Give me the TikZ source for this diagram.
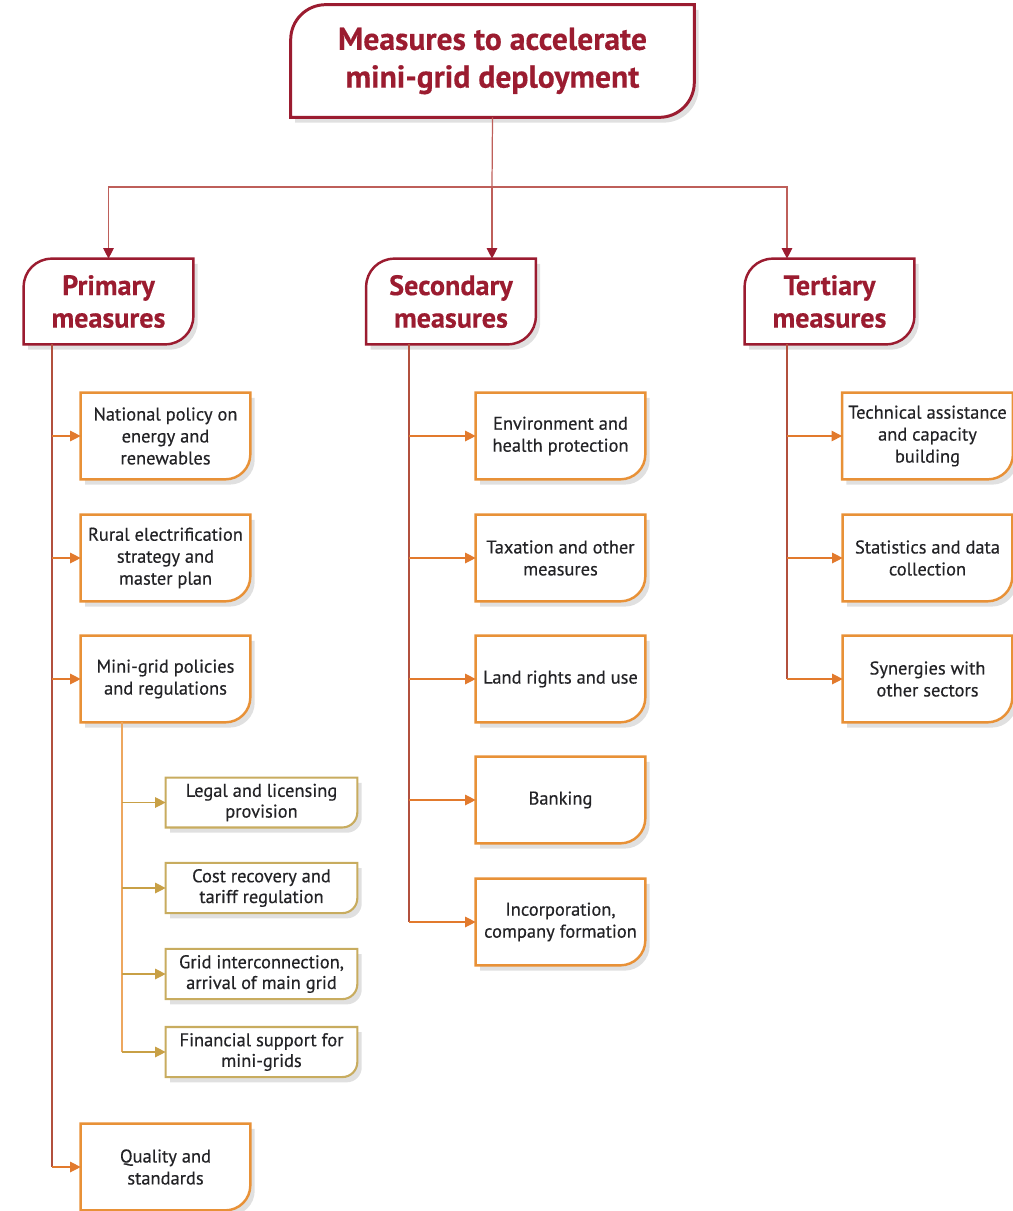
\documentclass[tikz,border=0pt]{standalone}
\usepackage{fontspec}
\setmainfont{PT Sans}[FakeBold=0.4]
\usetikzlibrary{arrows.meta,shadows,backgrounds}
\usepackage{xcolor}

\definecolor{rojo}{RGB}{155,28,48}
\definecolor{rojoclaro}{RGB}{190,95,90}
\definecolor{tronco}{RGB}{178,80,62}
\definecolor{naranja}{RGB}{232,145,55}
\definecolor{flechanar}{RGB}{226,122,45}
\definecolor{caqui}{RGB}{200,172,95}
\definecolor{oro}{RGB}{200,160,70}
\definecolor{texto}{RGB}{35,35,38}

% marco con esquinas redondeadas arriba-izq y abajo-der
\newcommand{\marcoA}[3]{%
  \begin{pgfonlayer}{background}
  \draw[#3] (#1.south west) -- ([yshift=-#2]#1.north west)
    arc[start angle=180,end angle=90,radius=#2] -- (#1.north east)
    -- ([yshift=#2]#1.south east) arc[start angle=0,end angle=-90,radius=#2] -- cycle;
  \end{pgfonlayer}}
% marco con solo la esquina abajo-der redondeada
\newcommand{\marcoB}[3]{%
  \begin{pgfonlayer}{background}
  \draw[#3] (#1.south west) -- (#1.north west) -- (#1.north east)
    -- ([yshift=#2]#1.south east) arc[start angle=0,end angle=-90,radius=#2] -- cycle;
  \end{pgfonlayer}}

\begin{document}
\begin{tikzpicture}[x=0.02cm,y=-0.02cm,
  sombra/.style={fill=white,drop shadow={shadow xshift=2.5pt,shadow yshift=-3pt,opacity=0.12,fill=black}},
  titulo/.style={text=rojo,font=\bfseries\fontsize{18}{21.5}\selectfont,align=center,
    minimum width=8.06cm,minimum height=2.24cm},
  grupo/.style={text=rojo,font=\bfseries\fontsize{16}{18.5}\selectfont,align=center,
    minimum width=3.38cm,minimum height=1.7cm},
  medida/.style={text=texto,font=\fontsize{10.5}{12.5}\selectfont,align=center,
    minimum width=3.38cm,minimum height=1.72cm},
  submedida/.style={text=texto,font=\fontsize{10.5}{11.8}\selectfont,align=center,
    minimum width=3.82cm,minimum height=0.96cm},
  flecha/.style={-{Triangle[length=6pt,width=6pt]}},
  flechaalta/.style={rojoclaro,line width=0.7pt,-{Triangle[length=6pt,width=6pt,color=rojo]}},
]
\useasboundingbox (0,0) rectangle (1013,1211);

\node[titulo] (meta) at (492.5,61) {Measures to accelerate\\mini-grid deployment};
\node[grupo] (prim) at (108.5,301.5) {Primary\\measures};
\node[grupo] (secu) at (451,301.5) {Secondary\\measures};
\node[grupo] (terc) at (829.5,301.5) {Tertiary\\measures};
\marcoA{meta}{0.7cm}{rojo,line width=1.7pt,sombra}
\foreach \n in {prim,secu,terc}
  \marcoA{\n}{0.56cm}{rojo,line width=1.4pt,sombra};

\foreach \n/\y/\t in {p1/436/{National policy on\\energy and\\renewables},
    p2/558/{Rural electrification\\strategy and\\master plan},
    p3/679/{Mini-grid policies\\and regulations},
    p4/1167/{Quality and\\standards}}
  \node[medida] (\n) at (165.5,\y) {\t};
\foreach \n/\y/\t in {s1/436/{Environment and\\health protection},
    s2/558/{Taxation and other\\measures},
    s3/679/{Land rights and use},
    s4/800/{Banking},
    s5/922/{Incorporation,\\company formation}}
  \node[medida] (\n) at (560.5,\y) {\t};
\foreach \n/\y/\t in {t1/436/{Technical assistance\\and capacity\\building},
    t2/558/{Statistics and data\\collection},
    t3/679/{Synergies with\\other sectors}}
  \node[medida] (\n) at (927.5,\y) {\t};
\foreach \n/\y/\t in {g1/802.5/{Legal and licensing\\provision},
    g2/888/{Cost recovery and\\tariff regulation},
    g3/974/{Grid interconnection,\\arrival of main grid},
    g4/1052/{Financial support for\\mini-grids}}
  \node[submedida] (\n) at (261.5,\y) {\t};

\foreach \n in {p1,p2,p3,p4,s1,s2,s3,s4,s5,t1,t2,t3}
  \marcoB{\n}{0.5cm}{naranja,line width=1.4pt,sombra};
\foreach \n in {g1,g2,g3,g4}
  \marcoB{\n}{0.3cm}{caqui,line width=1.2pt,sombra};

% ramas superiores
\coordinate (rama) at (492,187);
\coordinate (tt) at (787,344);
\draw[rojoclaro,line width=0.7pt] (meta.south) -- (rama);
\draw[flechaalta] (rama) -- (secu.north -| rama);
\draw[flechaalta] (rama) -| (prim.north);
\draw[flechaalta] (rama) -| (terc.north -| tt);

% troncos
\coordinate (pt) at (52,344);
\coordinate (st) at (409,344);
\coordinate (mt) at (122,722);
\draw[tronco,line width=0.7pt] (pt) -- (pt |- p4.west);
\draw[tronco,line width=0.7pt] (st) -- (st |- s5.west);
\draw[tronco,line width=0.7pt] (tt) -- (tt |- t3.west);
\draw[naranja!80,line width=0.7pt] (mt) -- (mt |- g4.west);
\foreach \n in {p1,p2,p3,p4}
  \draw[flechanar,line width=0.7pt,flecha] (pt |- \n.west) -- (\n.west);
\foreach \n in {s1,s2,s3,s4,s5}
  \draw[flechanar,line width=0.7pt,flecha] (st |- \n.west) -- (\n.west);
\foreach \n in {t1,t2,t3}
  \draw[flechanar,line width=0.7pt,flecha] (tt |- \n.west) -- (\n.west);
\foreach \n in {g1,g2,g3,g4}
  \draw[oro,line width=0.7pt,flecha] (mt |- \n.west) -- (\n.west);
\end{tikzpicture}
\end{document}
